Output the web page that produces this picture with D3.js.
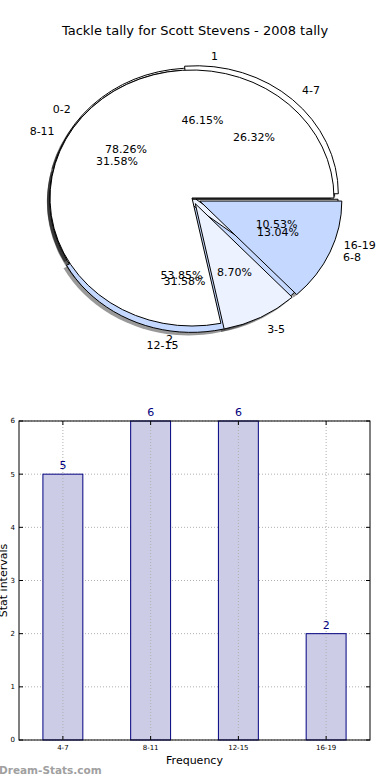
<!DOCTYPE html>
<html lang="en">
<head>
    <meta charset="UTF-8">
    <title>Tackle tally for Scott Stevens - 2008 tally</title>
    <script src="https://d3js.org/d3.v7.min.js"></script>
    <style>
        body { margin: 0; background: #fff; font-family: "DejaVu Sans", sans-serif; }
        svg { display: block; }
        .pie-label { font-size: 11px; fill: #000; }
        .tick-label { font-size: 7px; fill: #000; }
        .grid { stroke: #b0b0b0; stroke-width: 1; stroke-dasharray: 1,2; }
        .bar-value { font-size: 11px; fill: #000080; text-anchor: middle; }
    </style>
</head>
<body>
    <svg id="chart" width="390" height="780"></svg>
    <script>
        // three tallies that ended up drawn on the same pie
        const pieCatsA = ["0-2", "3-5", "6-8"];
        const pieValsA = [18, 2, 3];
        const pieCatsB = ["4-7", "8-11", "12-15", "16-19"];
        const pieValsB = [5, 6, 6, 2];
        const pieCatsC = ["1", "2"];
        const pieValsC = [6, 7];

        const barCats = ["4-7", "8-11", "12-15", "16-19"];
        const barVals = [5, 6, 6, 2];
        const yTicks = [0, 1, 2, 3, 4, 5, 6];

        const svg = d3.select("#chart");

        svg.append("text")
            .attr("x", 195).attr("y", 35)
            .attr("text-anchor", "middle")
            .style("font-size", "13px")
            .text("Tackle tally for Scott Stevens - 2008 tally");

        // ---- pie ----
        const cx = 192, cy = 198, rx = 142, ry = 128;
        const sy = ry / rx;
        const pct = d3.format(".2f");

        const pies = [
            { cats: pieCatsC, vals: pieValsC, explode: [0.015, 0.01], colors: ["#ffffff", "#ecf2ff"] },
            { cats: pieCatsB, vals: pieValsB, explode: [0.045, 0, 0.05, 0.03], colors: ["#ffffff", "#ecf2ff", "#c5d8ff", "#ffffff"] },
            { cats: pieCatsA, vals: pieValsA, explode: [0, 0.05, 0.06], colors: ["#ffffff", "#ecf2ff", "#c5d8ff"] }
        ];

        const pieGen = d3.pie().sort(null)
            .startAngle(Math.PI / 2)
            .endAngle(Math.PI / 2 - 2 * Math.PI);
        const arc = d3.arc().innerRadius(0).outerRadius(rx);

        const shadowLayer = svg.append("g");
        const wedgeLayer = svg.append("g");
        const labelLayer = svg.append("g");

        pies.forEach(p => {
            const arcs = pieGen(p.vals);
            const total = d3.sum(p.vals);
            arcs.forEach((a, i) => {
                const m = (a.startAngle + a.endAngle) / 2;
                const ox = p.explode[i] * rx * Math.sin(m);
                const oy = -p.explode[i] * ry * Math.cos(m);

                shadowLayer.append("path")
                    .attr("transform", `translate(${cx + ox - 3},${cy + oy + 3}) scale(1,${sy})`)
                    .attr("d", arc(a))
                    .attr("fill", "#000")
                    .attr("opacity", 0.4);

                wedgeLayer.append("path")
                    .attr("transform", `translate(${cx + ox},${cy + oy}) scale(1,${sy})`)
                    .attr("d", arc(a))
                    .attr("fill", p.colors[i])
                    .attr("stroke", "#000")
                    .attr("stroke-width", 1)
                    .attr("stroke-linejoin", "round")
                    .attr("vector-effect", "non-scaling-stroke");

                const lx = cx + ox + 1.1 * rx * Math.sin(m);
                const ly = cy + oy - 1.1 * ry * Math.cos(m);
                labelLayer.append("text")
                    .attr("class", "pie-label")
                    .attr("x", lx).attr("y", ly)
                    .attr("dy", "0.35em")
                    .attr("text-anchor", Math.sin(m) > 0 ? "start" : "end")
                    .text(p.cats[i]);

                labelLayer.append("text")
                    .attr("class", "pie-label")
                    .attr("x", cx + ox + 0.6 * rx * Math.sin(m))
                    .attr("y", cy + oy - 0.6 * ry * Math.cos(m))
                    .attr("dy", "0.35em")
                    .attr("text-anchor", "middle")
                    .text(pct(100 * p.vals[i] / total) + "%");
            });
        });

        // ---- bar chart ----
        const plotL = 19, plotR = 370, plotT = 421, plotB = 740;

        const x = d3.scaleBand()
            .domain(barCats)
            .range([plotL, plotR])
            .paddingInner(0.545)
            .paddingOuter(0.2725);
        const y = d3.scaleLinear().domain([0, 6]).range([plotB, plotT]);

        const bars = svg.append("g");

        // grid
        bars.selectAll(".ygrid")
            .data(yTicks)
            .join("line")
            .attr("class", "grid")
            .attr("x1", plotL).attr("x2", plotR)
            .attr("y1", d => y(d)).attr("y2", d => y(d));

        bars.selectAll(".bar")
            .data(barVals)
            .join("rect")
            .attr("class", "bar")
            .attr("x", (d, i) => x(barCats[i]))
            .attr("y", d => y(d))
            .attr("width", x.bandwidth())
            .attr("height", d => plotB - y(d))
            .attr("fill", "#cccce6")
            .attr("stroke", "#000080")
            .attr("stroke-width", 1);

        bars.selectAll(".xgrid")
            .data(barCats)
            .join("line")
            .attr("class", "grid")
            .attr("x1", d => x(d) + x.bandwidth() / 2)
            .attr("x2", d => x(d) + x.bandwidth() / 2)
            .attr("y1", plotT).attr("y2", plotB);

        bars.selectAll(".bar-value")
            .data(barVals)
            .join("text")
            .attr("class", "bar-value")
            .attr("x", (d, i) => x(barCats[i]) + x.bandwidth() / 2)
            .attr("y", d => y(d) - 5)
            .text(d => d);

        // frame
        bars.append("rect")
            .attr("x", plotL).attr("y", plotT)
            .attr("width", plotR - plotL).attr("height", plotB - plotT)
            .attr("fill", "none")
            .attr("stroke", "#000")
            .attr("stroke-width", 1);

        // ticks, drawn inward like the old matplotlib style
        yTicks.forEach(t => {
            bars.append("line").attr("x1", plotL).attr("x2", plotL + 4)
                .attr("y1", y(t)).attr("y2", y(t)).attr("stroke", "#000");
            bars.append("line").attr("x1", plotR - 4).attr("x2", plotR)
                .attr("y1", y(t)).attr("y2", y(t)).attr("stroke", "#000");
            bars.append("text")
                .attr("class", "tick-label")
                .attr("x", plotL - 4).attr("y", y(t))
                .attr("dy", "0.35em")
                .attr("text-anchor", "end")
                .text(t);
        });
        barCats.forEach(c => {
            const xc = x(c) + x.bandwidth() / 2;
            bars.append("line").attr("x1", xc).attr("x2", xc)
                .attr("y1", plotB).attr("y2", plotB - 4).attr("stroke", "#000");
            bars.append("line").attr("x1", xc).attr("x2", xc)
                .attr("y1", plotT).attr("y2", plotT + 4).attr("stroke", "#000");
            bars.append("text")
                .attr("class", "tick-label")
                .attr("x", xc).attr("y", plotB + 10)
                .attr("text-anchor", "middle")
                .text(c);
        });

        svg.append("text")
            .attr("x", (plotL + plotR) / 2).attr("y", 764)
            .attr("text-anchor", "middle")
            .style("font-size", "11px")
            .text("Frequency");

        svg.append("text")
            .attr("transform", `translate(7,${(plotT + plotB) / 2}) rotate(-90)`)
            .attr("text-anchor", "middle")
            .style("font-size", "11px")
            .text("Stat intervals");

        svg.append("text")
            .attr("x", -1).attr("y", 774)
            .style("font-size", "10.5px")
            .style("font-weight", "bold")
            .attr("fill", "#a0a0a0")
            .text("Dream-Stats.com");
    </script>
</body>
</html>
